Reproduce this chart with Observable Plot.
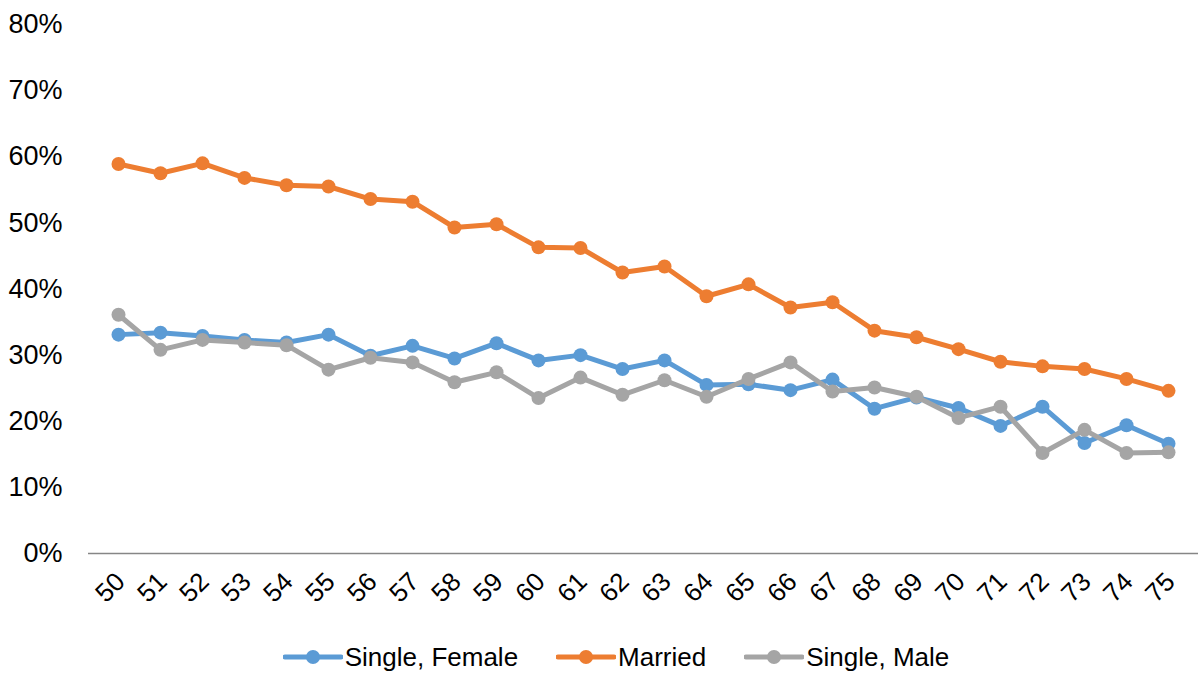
<!DOCTYPE html>
<html>
<head>
<meta charset="utf-8">
<script src="https://cdn.jsdelivr.net/npm/d3@7"></script>
<script src="https://cdn.jsdelivr.net/npm/@observablehq/plot@0.6"></script>
<style>
  html, body { margin: 0; padding: 0; background: #fff; overflow: hidden; }
  body { font-family: "Liberation Sans", Arial, sans-serif; width: 1198px; height: 673px; }
  #legend { height: 32px; line-height: 32px; display: flex; justify-content: center; align-items: center; font-size: 26px; color: #000; padding-left: 34px; }
  .item { display: flex; align-items: center; margin: 0 19px; }
  .item svg { margin-right: 2px; }
</style>
</head>
<body>
<div id="chart"></div>
<div id="legend"></div>
<script>
const ages = ["50","51","52","53","54","55","56","57","58","59","60","61","62","63","64","65","66","67","68","69","70","71","72","73","74","75"];
const singleFemale = [33.1, 33.4, 32.9, 32.3, 31.9, 33.1, 29.9, 31.4, 29.5, 31.8, 29.2, 30.0, 27.9, 29.2, 25.5, 25.6, 24.7, 26.3, 21.9, 23.6, 22.0, 19.3, 22.2, 16.7, 19.4, 16.6];
const married = [58.9, 57.5, 59.0, 56.8, 55.7, 55.5, 53.6, 53.2, 49.3, 49.8, 46.3, 46.2, 42.5, 43.4, 38.9, 40.7, 37.2, 38.0, 33.7, 32.7, 30.9, 29.0, 28.3, 27.9, 26.4, 24.6];
const singleMale = [36.1, 30.8, 32.3, 31.9, 31.5, 27.8, 29.6, 28.9, 25.9, 27.4, 23.5, 26.6, 24.0, 26.2, 23.7, 26.4, 28.9, 24.5, 25.1, 23.7, 20.5, 22.2, 15.2, 18.7, 15.2, 15.3];
const yTicks = [0, 10, 20, 30, 40, 50, 60, 70, 80];
const seriesNames = ["Single, Female", "Married", "Single, Male"];
const seriesColors = ["#5B9BD5", "#ED7D31", "#A5A5A5"];

const seriesValues = [singleFemale, married, singleMale];
const data = seriesNames.flatMap((name, i) =>
  ages.map((age, j) => ({series: name, age, value: seriesValues[i][j]}))
);

const lineMarks = seriesNames.flatMap((name, i) => {
  const d = data.filter(r => r.series === name);
  return [
    Plot.line(d, {x: "age", y: "value", stroke: seriesColors[i], strokeWidth: 5, strokeLinejoin: "round", strokeLinecap: "round"}),
    Plot.dot(d, {x: "age", y: "value", fill: seriesColors[i], r: 7, stroke: "none"})
  ];
});

const chart = Plot.plot({
  width: 1198,
  height: 641,
  marginTop: 24,
  marginBottom: 88,
  marginLeft: 88,
  marginRight: 0,
  style: {fontFamily: "'Liberation Sans', Arial, sans-serif", fontSize: "26px", color: "#000", background: "#fff"},
  x: {type: "point", domain: ages, padding: 0.5, axis: null},
  y: {domain: [0, 80], axis: null},
  marks: [
    Plot.axisY(yTicks, {tickSize: 0, tickPadding: 26, tickFormat: d => d + "%", fontSize: 27, fill: "#000", label: null}),
    Plot.ruleY([0], {stroke: "#868686", strokeWidth: 1.5}),
    Plot.text(ages, {x: d => d, frameAnchor: "bottom", text: d => d, rotate: -45, textAnchor: "end", lineAnchor: "middle", dx: 2, dy: 24, fontSize: 26, fill: "#000"}),
    ...lineMarks
  ]
});
document.getElementById("chart").appendChild(chart);

const legend = document.getElementById("legend");
seriesNames.forEach((name, i) => {
  const item = document.createElement("div");
  item.className = "item";
  item.innerHTML = `<svg width="60" height="16"><line x1="2" y1="8" x2="58" y2="8" stroke="${seriesColors[i]}" stroke-width="5" stroke-linecap="round"/><circle cx="30" cy="8" r="7" fill="${seriesColors[i]}"/></svg><span>${name}</span>`;
  legend.appendChild(item);
});
</script>
</body>
</html>
